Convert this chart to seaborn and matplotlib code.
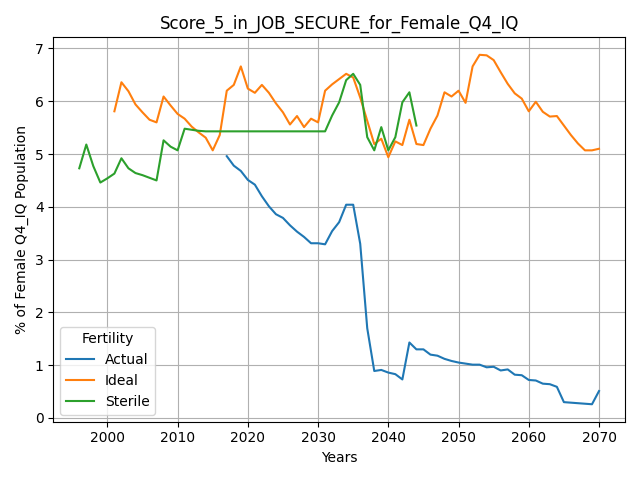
import numpy as np
import pandas as pd
import seaborn as sns
import matplotlib

matplotlib.use("Agg")
import matplotlib.pyplot as plt

# Actual series (2017 - 2070)
actual_years = list(range(2017, 2071))
actual_vals = [
    4.96, 4.78, 4.68, 4.51, 4.42, 4.20, 4.01, 3.86, 3.79, 3.65,
    3.53, 3.43, 3.31, 3.31, 3.29, 3.54, 3.71, 4.04, 4.04, 3.30,
    1.70, 0.89, 0.91, 0.86, 0.83, 0.73, 1.43, 1.30, 1.30, 1.20,
    1.18, 1.12, 1.08, 1.05, 1.03, 1.01, 1.01, 0.96, 0.97, 0.90,
    0.92, 0.82, 0.81, 0.72, 0.71, 0.65, 0.64, 0.59, 0.30, 0.29,
    0.28, 0.27, 0.26, 0.51,
]

# Ideal series (2001 - 2070)
ideal_years = list(range(2001, 2071))
ideal_vals = [
    5.81, 6.36, 6.19, 5.94, 5.79, 5.65, 5.60, 6.09, 5.92, 5.76,
    5.67, 5.52, 5.41, 5.31, 5.07, 5.36, 6.20, 6.31, 6.66, 6.24,
    6.16, 6.31, 6.16, 5.96, 5.79, 5.56, 5.72, 5.51, 5.67, 5.60,
    6.20, 6.32, 6.42, 6.52, 6.45, 6.07, 5.63, 5.19, 5.29, 4.94,
    5.24, 5.17, 5.65, 5.19, 5.17, 5.48, 5.73, 6.17, 6.09, 6.20,
    5.97, 6.66, 6.88, 6.87, 6.78, 6.55, 6.33, 6.15, 6.05, 5.81,
    5.99, 5.80, 5.71, 5.72, 5.54, 5.36, 5.20, 5.07, 5.07, 5.10,
]

# Sterile series (1996 - 2044)
sterile_years = list(range(1996, 2045))
sterile_vals = [
    4.73, 5.18, 4.77, 4.46, 4.54, 4.63, 4.92, 4.73, 4.64, 4.60,
    4.55, 4.50, 5.26, 5.14, 5.07, 5.48, 5.46, 5.44, 5.43, 5.43,
    5.43, 5.43, 5.43, 5.43, 5.43, 5.43, 5.43, 5.43, 5.43, 5.43,
    5.43, 5.43, 5.43, 5.43, 5.43, 5.43, 5.73, 5.98, 6.40, 6.52,
    6.31, 5.32, 5.07, 5.51, 5.07, 5.32, 5.98, 6.17, 5.54,
]

frames = []
for name, yrs, vals in [
    ("Actual", actual_years, actual_vals),
    ("Ideal", ideal_years, ideal_vals),
    ("Sterile", sterile_years, sterile_vals),
]:
    frames.append(pd.DataFrame({"Years": yrs, "value": vals, "Fertility": name}))
df = pd.concat(frames, ignore_index=True)

fig, ax = plt.subplots(figsize=(6.4, 4.8), dpi=100)
sns.lineplot(
    data=df,
    x="Years",
    y="value",
    hue="Fertility",
    palette=["#1f77b4", "#ff7f0e", "#2ca02c"],
    ax=ax,
)
ax.grid(True, color="#b0b0b0")
ax.set_axisbelow(True)
ax.set_title("Score_5_in_JOB_SECURE_for_Female_Q4_IQ")
ax.set_xlabel("Years")
ax.set_ylabel("% of Female Q4_IQ Population")
ax.legend(title="Fertility", loc="lower left")
fig.tight_layout()
fig.savefig("out.png")
